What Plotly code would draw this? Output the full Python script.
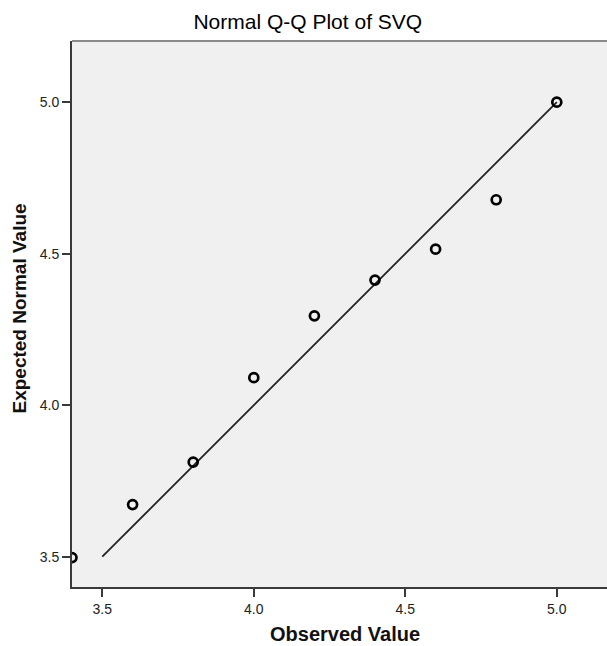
import plotly.graph_objects as go

# Observed SVQ scores and their expected normal quantiles
observed = [3.4, 3.6, 3.8, 4.0, 4.2, 4.4, 4.6, 4.8, 5.0]
expected = [3.497, 3.672, 3.812, 4.091, 4.295, 4.413, 4.515, 4.678, 5.0]

# Reference line y = x
ref_x = [3.5, 5.0]
ref_y = [3.5, 5.0]

tick_vals = [3.5, 4.0, 4.5, 5.0]
tick_text = ["3.5", "4.0", "4.5", "5.0"]

FONT = "Liberation Sans, Arial, sans-serif"
W, H = 607, 646
ML, MR, MT, MB = 72, 0, 41, 59
plot_w = W - ML - MR
plot_h = H - MT - MB

fig = go.Figure()
fig.add_trace(go.Scatter(
    x=ref_x, y=ref_y, mode="lines",
    line=dict(color="#222222", width=1.8),
    hoverinfo="skip", showlegend=False,
))
fig.add_trace(go.Scatter(
    x=observed, y=expected, mode="markers",
    marker=dict(symbol="circle-open", size=9, color="#000000",
                line=dict(color="#000000", width=2.7)),
    showlegend=False,
))

axis_common = dict(
    showgrid=False, zeroline=False,
    showline=True, linecolor="#3a3a3a", linewidth=2,
    ticks="outside", ticklen=8, tickwidth=2, tickcolor="#3a3a3a",
    tickvals=tick_vals, ticktext=tick_text,
    tickfont=dict(family=FONT, size=14, color="#222222"),
)

fig.update_layout(
    width=W, height=H,
    margin=dict(l=ML, r=MR, t=MT, b=MB, pad=0),
    paper_bgcolor="#ffffff",
    plot_bgcolor="#f0f0f0",
    xaxis=dict(range=[3.4, 3.4 + plot_w / 303.0], **axis_common),
    yaxis=dict(range=[3.4, 3.4 + plot_h / 303.0], **axis_common),
    title=dict(
        text="Normal Q-Q Plot of SVQ",
        font=dict(family=FONT, size=21, color="#000000"),
        x=307.8 / W, xanchor="center",
        y=1 - 22 / H, yanchor="middle",
    ),
    annotations=[
        dict(text="<b>Observed Value</b>", xref="paper", yref="paper",
             x=(344.7 - ML) / plot_w, y=-(47.0 / plot_h),
             xanchor="center", yanchor="middle", showarrow=False,
             font=dict(family=FONT, size=20, color="#111111")),
        dict(text="<b>Expected Normal Value</b>", xref="paper", yref="paper",
             x=(18.5 - ML) / plot_w, y=(H - MB - 309.0) / plot_h,
             xanchor="center", yanchor="middle", textangle=-90,
             showarrow=False,
             font=dict(family=FONT, size=19, color="#111111")),
    ],
    shapes=[
        # light frame line along the top of the plot area
        dict(type="line", xref="paper", yref="paper",
             x0=0, x1=1, y0=1, y1=1,
             line=dict(color="#8a8a8a", width=2), layer="above"),
    ],
)

fig.write_html("out.html")
